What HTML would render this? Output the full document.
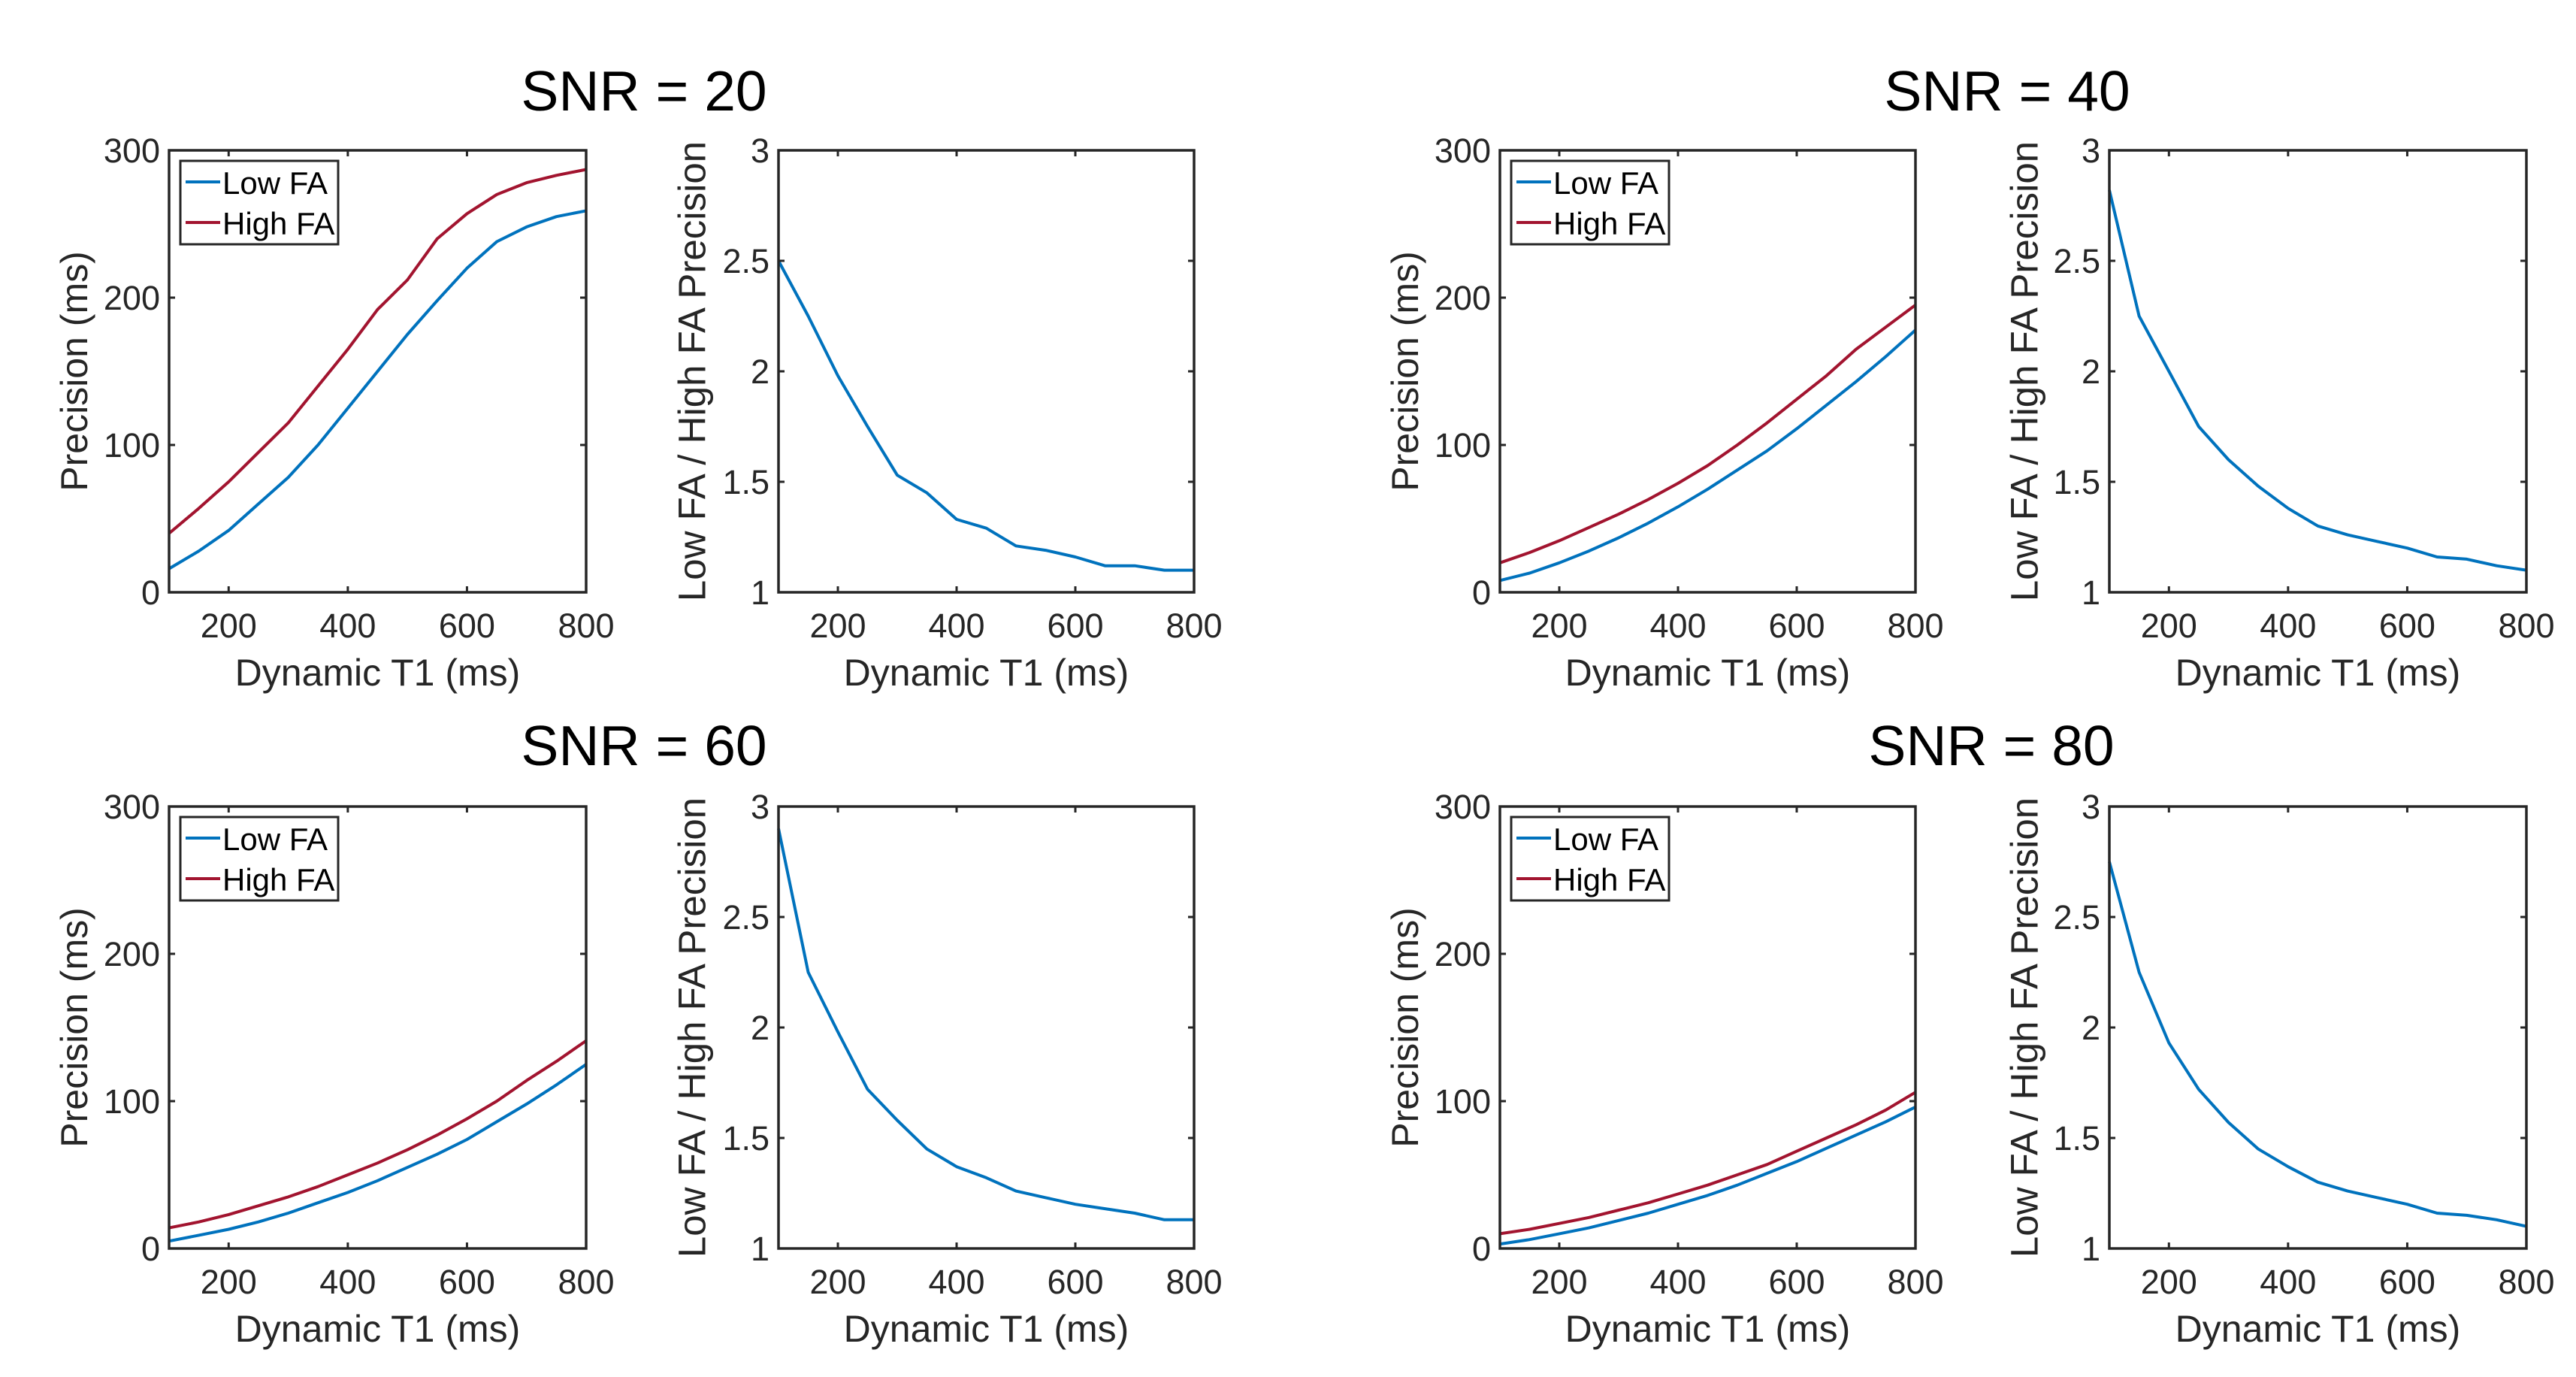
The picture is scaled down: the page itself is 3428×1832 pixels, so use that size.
<!DOCTYPE html>
<html><head><meta charset="utf-8"><style>
html,body{margin:0;padding:0;background:#fff;}
svg{display:block;font-family:"Liberation Sans",sans-serif;}
</style></head><body>
<svg id="fig" width="3428" height="1832" viewBox="0 0 3428 1832"></svg>
<script>
const xs = [100,150,200,250,300,350,400,450,500,550,600,650,700,750,800];
const xTicks = [200,400,600,800];
const precTicks = [0,100,200,300];
const ratioTicks = [1,1.5,2,2.5,3];
const ratioTickLabels = ["1","1.5","2","2.5","3"];
const snrTitles = ["SNR = 20","SNR = 40","SNR = 60","SNR = 80"];
const low20 = [16,28,42,60,78,100,125,150,175,198,220,238,248,255,259];
const high20 = [40,57,75,95,115,140,165,192,212,240,257,270,278,283,287];
const ratio20 = [2.5,2.25,1.98,1.75,1.53,1.45,1.33,1.29,1.21,1.19,1.16,1.12,1.12,1.10,1.10];
const low40 = [8,13,20,28,37,47,58,70,83,96,111,127,143,160,178];
const high40 = [20,27,35,44,53,63,74,86,100,115,131,147,165,180,195];
const ratio40 = [2.82,2.25,2.0,1.75,1.6,1.48,1.38,1.3,1.26,1.23,1.2,1.16,1.15,1.12,1.1];
const low60 = [5,9,13,18,24,31,38,46,55,64,74,86,98,111,125];
const high60 = [14,18,23,29,35,42,50,58,67,77,88,100,114,127,141];
const ratio60 = [2.9,2.25,1.98,1.72,1.58,1.45,1.37,1.32,1.26,1.23,1.2,1.18,1.16,1.13,1.13];
const low80 = [3,6,10,14,19,24,30,36,43,51,59,68,77,86,96];
const high80 = [10,13,17,21,26,31,37,43,50,57,66,75,84,94,106];
const ratio80 = [2.75,2.25,1.93,1.72,1.57,1.45,1.37,1.3,1.26,1.23,1.2,1.16,1.15,1.13,1.1];

const NS="http://www.w3.org/2000/svg";
const svg=document.getElementById('fig');
function el(tag,attrs,parent,txt){const e=document.createElementNS(NS,tag);for(const k in attrs)e.setAttribute(k,attrs[k]);if(txt!==undefined)e.textContent=txt;(parent||svg).appendChild(e);return e;}
const BLUE="#0072BD", RED="#A2142F";

function panel(L,T,R,B,ymin,ymax,yt,ytl,series,ylabel,legend,ylabX,ylabSize,name){
  const g=el('g',{},svg);
  
  
  const xf=v=>L+(v-100)/700*(R-L);
  const yf=v=>B-(v-ymin)/(ymax-ymin)*(B-T);
  series.forEach(s=>{
    const d=xs.map((x,i)=>(i?'L':'M')+xf(x).toFixed(1)+','+yf(s.vals[i]).toFixed(1)).join(' ');
    const p=el('path',{d:d,fill:'none',stroke:s.color,'stroke-width':4,'stroke-linejoin':'round'},g);
    
    
  });
  const box=el('rect',{x:L,y:T,width:R-L,height:B-T,fill:'none',stroke:'#262626','stroke-width':3.5},g);
  
  
  xTicks.forEach(t=>{
    const x=xf(t);
    el('line',{x1:x,y1:B,x2:x,y2:B-8,stroke:'#262626','stroke-width':3},g);
    el('line',{x1:x,y1:T,x2:x,y2:T+8,stroke:'#262626','stroke-width':3},g);
    const tx=el('text',{x:x,y:B+60,'font-size':45,'text-anchor':'middle',fill:'#262626'},g,String(t));
    
    
  });
  yt.forEach((t,i)=>{
    const y=yf(t);
    el('line',{x1:L,y1:y,x2:L+8,y2:y,stroke:'#262626','stroke-width':3},g);
    el('line',{x1:R,y1:y,x2:R-8,y2:y,stroke:'#262626','stroke-width':3},g);
    const tx=el('text',{x:L-12,y:y+16,'font-size':45,'text-anchor':'end',fill:'#262626'},g,ytl[i]);
    
    
  });
  const xl=el('text',{x:(L+R)/2,y:B+124,'font-size':50,'text-anchor':'middle',fill:'#262626'},g,'Dynamic T1 (ms)');
  
  
  const cy=(T+B)/2;
  const yl=el('text',{x:ylabX,y:cy,'font-size':ylabSize,'text-anchor':'middle',fill:'#262626',transform:`rotate(-90 ${ylabX} ${cy})`,'dominant-baseline':'middle'},g,ylabel);
  
  
  if(legend){
    const lg=el('g',{},g);
    
    
    el('rect',{x:L+15,y:T+14,width:210,height:111,fill:'#fff',stroke:'#262626','stroke-width':3},lg);
    [['Low FA',BLUE,42],['High FA',RED,96]].forEach(([lab,c,dy])=>{
      el('line',{x1:L+22,y1:T+dy,x2:L+68,y2:T+dy,stroke:c,'stroke-width':4},lg);
      const t=el('text',{x:L+71,y:T+dy+16,'font-size':42,fill:'#000'},lg,lab);
      
      
    });
  }
}

const cols=[[225,780,1036,1589,103,925],[1996,2549,2807,3362,1874,2698]];
const rows=[[200,788],[1073,1661]];
const data=[[low20,high20,ratio20],[low40,high40,ratio40],[low60,high60,ratio60],[low80,high80,ratio80]];
const titlePos=[[857,147],[2671,147],[857,1018],[2650,1018]];
data.forEach((d,k)=>{
  const c=cols[k%2], r=rows[Math.floor(k/2)];
  panel(c[0],r[0],c[1],r[1],0,300,precTicks,precTicks.map(String),
    [{vals:d[0],color:BLUE,name:'low-fa-line'},{vals:d[1],color:RED,name:'high-fa-line'}],
    'Precision (ms)',true,c[4],50,'precision-panel-'+k);
  panel(c[2],r[0],c[3],r[1],1,3,ratioTicks,ratioTickLabels,
    [{vals:d[2],color:BLUE,name:'ratio-line'}],
    'Low FA / High FA Precision',false,c[5],51,'ratio-panel-'+k);
  const t=el('text',{x:titlePos[k][0],y:titlePos[k][1],'font-size':75,'text-anchor':'middle',fill:'#000'},svg,snrTitles[k]);
  
  
});
</script>
</body></html>
